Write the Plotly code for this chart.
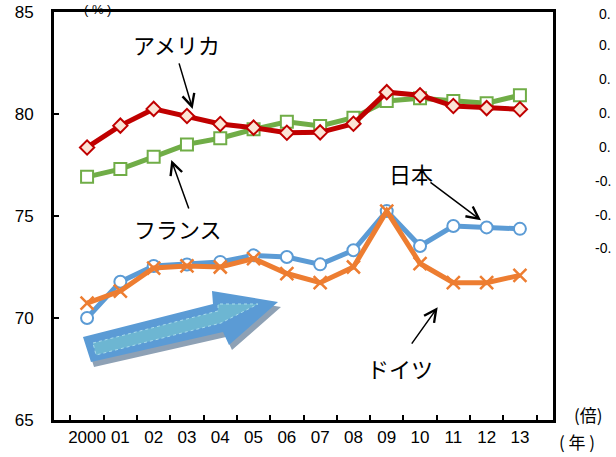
import plotly.graph_objects as go

years = ["2000", "01", "02", "03", "04", "05", "06", "07", "08", "09", "10", "11", "12", "13"]
america = [78.36, 79.43, 80.25, 79.90, 79.51, 79.33, 79.08, 79.10, 79.52, 81.07, 80.92, 80.39, 80.29, 80.23]
france = [76.92, 77.30, 77.90, 78.51, 78.81, 79.25, 79.62, 79.41, 79.82, 80.64, 80.77, 80.64, 80.53, 80.92]
japan = [70.00, 71.78, 72.55, 72.62, 72.75, 73.07, 72.99, 72.63, 73.32, 75.24, 73.53, 74.51, 74.44, 74.37]
germany = [70.73, 71.32, 72.45, 72.55, 72.50, 72.91, 72.18, 71.73, 72.50, 75.24, 72.67, 71.73, 71.73, 72.09]

W, H = 616, 457
L, R, T, B = 54, 63, 12, 37
PW, PH = W - L - R, H - T - B

def px(x):
    return (x - L) / PW

def py(y):
    return (H - B - y) / PH

JP = "Noto Sans CJK JP"
AR = "Liberation Sans, Arial"

fig = go.Figure()

# green squares (France)
fig.add_trace(go.Scatter(x=years, y=france, mode="lines+markers",
                         line=dict(color="#70AD47", width=5),
                         marker=dict(symbol="square", size=12, color="white",
                                     line=dict(color="#70AD47", width=2))))
# red diamonds (America)
fig.add_trace(go.Scatter(x=years, y=america, mode="lines+markers",
                         line=dict(color="#C00000", width=5),
                         marker=dict(symbol="diamond", size=11, color="#FCE4D6",
                                     line=dict(color="#C00000", width=2))))
# blue circles (Japan)
fig.add_trace(go.Scatter(x=years, y=japan, mode="lines+markers",
                         line=dict(color="#5B9BD5", width=5),
                         marker=dict(symbol="circle", size=12, color="white",
                                     line=dict(color="#5B9BD5", width=2))))
# orange x (Germany)
fig.add_trace(go.Scatter(x=years, y=germany, mode="lines+markers",
                         line=dict(color="#ED7D31", width=5),
                         marker=dict(symbol="x-thin-open", size=13,
                                     line=dict(color="#ED7D31", width=2.5))))

# Big decorative block arrow (shadow, main, inner stripe)
def poly(pts, dx=0, dy=0):
    s = "M " + " L ".join(f"{px(x+dx):.4f},{py(y+dy):.4f}" for x, y in pts) + " Z"
    return s

arrow_pts = [(83, 337), (213, 304), (212, 291), (278, 302), (229, 345), (223, 332), (91, 362)]
fig.add_shape(type="path", path=poly(arrow_pts, 3, 5), xref="paper", yref="paper",
              fillcolor="#8EA1B5", line=dict(width=0), layer="above")
fig.add_shape(type="path", path=poly(arrow_pts), xref="paper", yref="paper",
              fillcolor="#5B9BD5", line=dict(width=0), layer="above")
inner = [(93, 343), (218, 311), (218, 304), (258, 304), (221, 323), (96, 355)]
fig.add_shape(type="path", path=poly(inner), xref="paper", yref="paper",
              fillcolor="#6DB6D2", line=dict(color="#A9DCEB", width=1, dash="dot"),
              layer="above")

annotations = []
# arrows pointing to series
for (xi, yv, ax, ay) in [(3.17, 80.25, -14, -47), (2.53, 77.74, 18, 50),
                         (11.83, 74.79, -52, -39), (10.53, 70.53, -27, 38)]:
    annotations.append(dict(x=xi, y=yv, xref="x", yref="y", ax=ax, ay=ay,
                            text="", showarrow=True, arrowhead=5, arrowsize=1.6,
                            arrowwidth=1.5, arrowcolor="black"))
# series labels
for (txt, x, y) in [("アメリカ", 176, 44), ("フランス", 178, 228),
                    ("日本", 411, 173), ("ドイツ", 400, 368)]:
    annotations.append(dict(x=px(x), y=py(y), xref="paper", yref="paper",
                            text=txt, showarrow=False, xanchor="center", yanchor="middle",
                            font=dict(family=JP, size=22, color="black")))
# unit labels
annotations.append(dict(x=px(97), y=py(0), xref="paper", yref="paper", text="( % )",
                        showarrow=False, xanchor="center", yanchor="top",
                        font=dict(family=AR, size=13, color="black")))
annotations.append(dict(x=px(557), y=py(441), xref="paper", yref="paper", text="( 年 )",
                        showarrow=False, xanchor="left", yanchor="middle",
                        font=dict(family=JP, size=17, color="black")))
annotations.append(dict(x=px(572), y=py(414), xref="paper", yref="paper", text="(倍)",
                        showarrow=False, xanchor="left", yanchor="middle",
                        font=dict(family=JP, size=17, color="black")))
# axis labels of neighbouring chart
right_labels = ["0.", "0.", "0.", "0.", "0.", "-0.", "-0.", "-0."]
right_y = [14, 45, 79, 113, 147, 181, 215, 248]
for t, yy in zip(right_labels, right_y):
    annotations.append(dict(x=px(613), y=py(yy), xref="paper", yref="paper", text=t,
                            showarrow=False, xanchor="right", yanchor="middle",
                            font=dict(family=AR, size=14, color="black")))

fig.update_layout(
    width=W, height=H,
    margin=dict(l=L, r=R, t=T, b=B, autoexpand=False),
    paper_bgcolor="white", plot_bgcolor="white",
    showlegend=False,
    annotations=annotations,
    xaxis=dict(type="category", categoryorder="array", categoryarray=years,
               automargin=False, tickangle=0,
               showline=True, linewidth=3, linecolor="black", mirror=True,
               ticks="inside", tickson="boundaries", ticklen=5, tickwidth=1.5, tickcolor="black",
               showgrid=False, zeroline=False,
               tickfont=dict(family=AR, size=17, color="black")),
    yaxis=dict(range=[65, 85], dtick=5, tick0=65, automargin=False,
               showline=True, linewidth=3, linecolor="black", mirror=True,
               ticks="inside", ticklen=5, tickwidth=1.5, tickcolor="black",
               showgrid=False, zeroline=False, ticklabelstandoff=14,
               tickfont=dict(family=AR, size=17, color="black")),
)

fig.write_html("out.html", config={"displayModeBar": False},
               post_script="document.body.style.margin='0';document.body.style.overflow='hidden';")
